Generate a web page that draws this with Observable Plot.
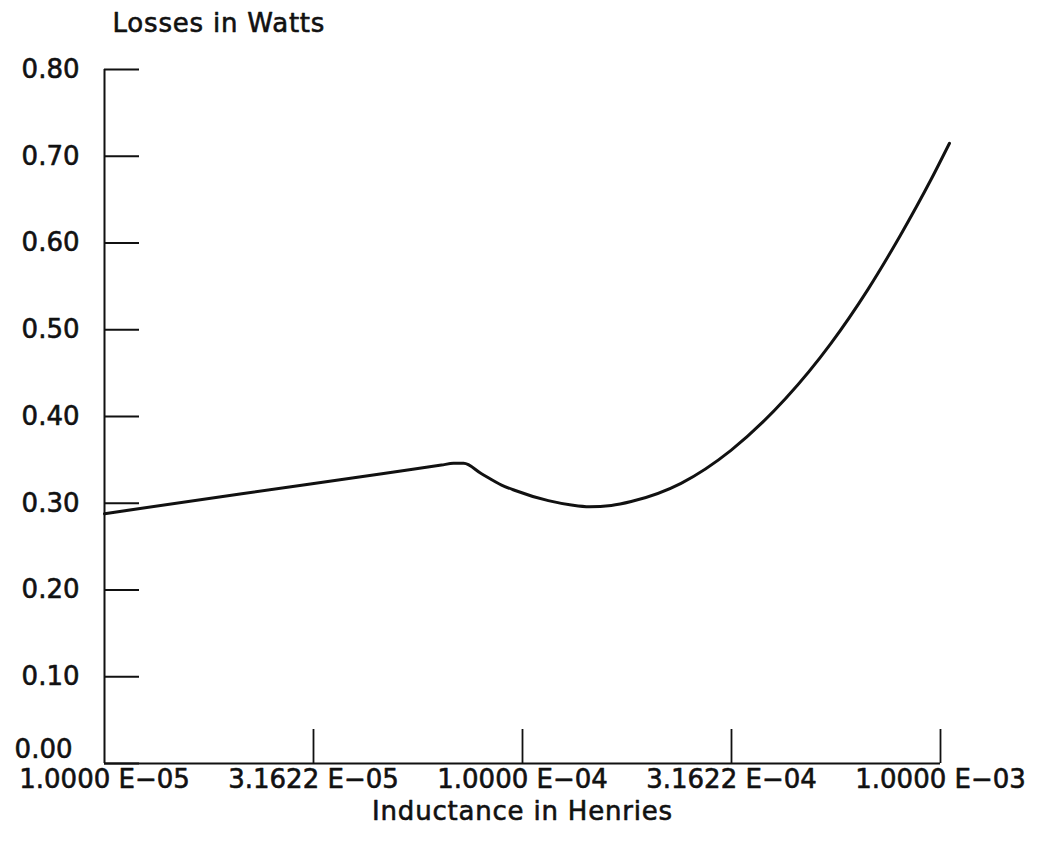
<!DOCTYPE html>
<html>
<head>
<meta charset="utf-8">
<script src="https://cdn.jsdelivr.net/npm/d3@7"></script>
<script src="https://cdn.jsdelivr.net/npm/@observablehq/plot@0.6"></script>
<style>
  body { margin: 0; background: #fff; }
  #chart svg { display: block; }
</style>
</head>
<body>
<div id="chart"></div>
<script>
// Inductor losses (W) against inductance (H), log-scaled inductance axis.
const inductance = [1.000e-5, 2.13e-5, 4.61e-5, 6.40e-5, 6.84e-5, 7.23e-5, 7.98e-5, 8.91e-5,
  9.57e-5, 1.153e-4, 1.309e-4, 1.445e-4, 1.631e-4, 1.820e-4, 2.395e-4, 3.153e-4,
  4.266e-4, 5.464e-4, 6.695e-4, 8.02e-4, 9.465e-4, 1.0508e-3];
const losses = [0.288, 0.311, 0.334, 0.344, 0.346, 0.346, 0.334, 0.321,
  0.315, 0.303, 0.298, 0.296, 0.2975, 0.302, 0.323, 0.361,
  0.421, 0.484, 0.546, 0.609, 0.672, 0.715];

const xTickValues = [1e-5, 3.1622e-5, 1e-4, 3.1622e-4, 1e-3];
const xTickLabels = ["1.0000 E\u221205", "3.1622 E\u221205", "1.0000 E\u221204", "3.1622 E\u221204", "1.0000 E\u221203"];
const yTickValues = [0, 0.1, 0.2, 0.3, 0.4, 0.5, 0.6, 0.7, 0.8];
const yTickLabels = ["0.00", "0.10", "0.20", "0.30", "0.40", "0.50", "0.60", "0.70", "0.80"];

const xTitle = "Inductance in Henries";
const yTitle = "Losses in Watts";

const curve = inductance.map((L, i) => ({L, W: losses[i]}));
const yTicks = yTickValues.map((v, i) => ({v, label: yTickLabels[i]}));
const xTicks = xTickValues.map((v, i) => ({v, label: xTickLabels[i]}));

const font = "'DejaVu Sans', sans-serif";
const ink = "#111";
const textStyle = {fontSize: 26, fill: ink, stroke: ink, strokeWidth: 0.6};

const chart = Plot.plot({
  width: 1039,
  height: 844,
  marginLeft: 104,
  marginRight: 99,
  marginTop: 69,
  marginBottom: 81,
  style: {fontFamily: font, color: ink, background: "#fff", overflow: "visible"},
  x: {type: "log", domain: [1e-5, 1e-3]},
  y: {domain: [0, 0.8]},
  marks: [
    // axis frame lines
    Plot.ruleX([1e-5], {stroke: ink, strokeWidth: 2}),
    Plot.ruleY([0], {stroke: ink, strokeWidth: 2}),
    // inward-pointing ticks
    Plot.axisY(yTickValues, {anchor: "left", tickSize: 35, dx: 35, fill: "none", label: null, stroke: ink, strokeWidth: 1.8}),
    Plot.axisX(xTickValues.slice(1), {anchor: "bottom", tickSize: 34, dy: -34, fill: "none", label: null, stroke: ink, strokeWidth: 1.8}),
    // tick labels
    Plot.text(yTicks.filter(d => d.v > 0), {y: "v", text: "label", frameAnchor: "left", textAnchor: "end", lineAnchor: "middle", dx: -25, ...textStyle}),
    Plot.text(yTicks.filter(d => d.v === 0), {y: "v", text: "label", frameAnchor: "left", textAnchor: "end", lineAnchor: "bottom", dx: -32, dy: -6, ...textStyle}),
    Plot.text(xTicks, {x: "v", text: "label", frameAnchor: "bottom", textAnchor: "middle", lineAnchor: "bottom", dy: 24, ...textStyle}),
    // axis titles
    Plot.text([xTitle], {frameAnchor: "bottom", textAnchor: "middle", lineAnchor: "bottom", dy: 56, ...textStyle}),
    Plot.text([yTitle], {frameAnchor: "top-left", textAnchor: "start", lineAnchor: "bottom", dx: 8, dy: -38, ...textStyle}),
    // loss curve
    Plot.line(curve, {x: "L", y: "W", stroke: ink, strokeWidth: 3, curve: "monotone-x"})
  ]
});

// the plotter lettering of the titles runs a little wider
d3.select(chart).selectAll("text")
  .filter(function () { return this.textContent === xTitle || this.textContent === yTitle; })
  .attr("letter-spacing", "0.8px");

document.getElementById("chart").append(chart);
</script>
</body>
</html>
